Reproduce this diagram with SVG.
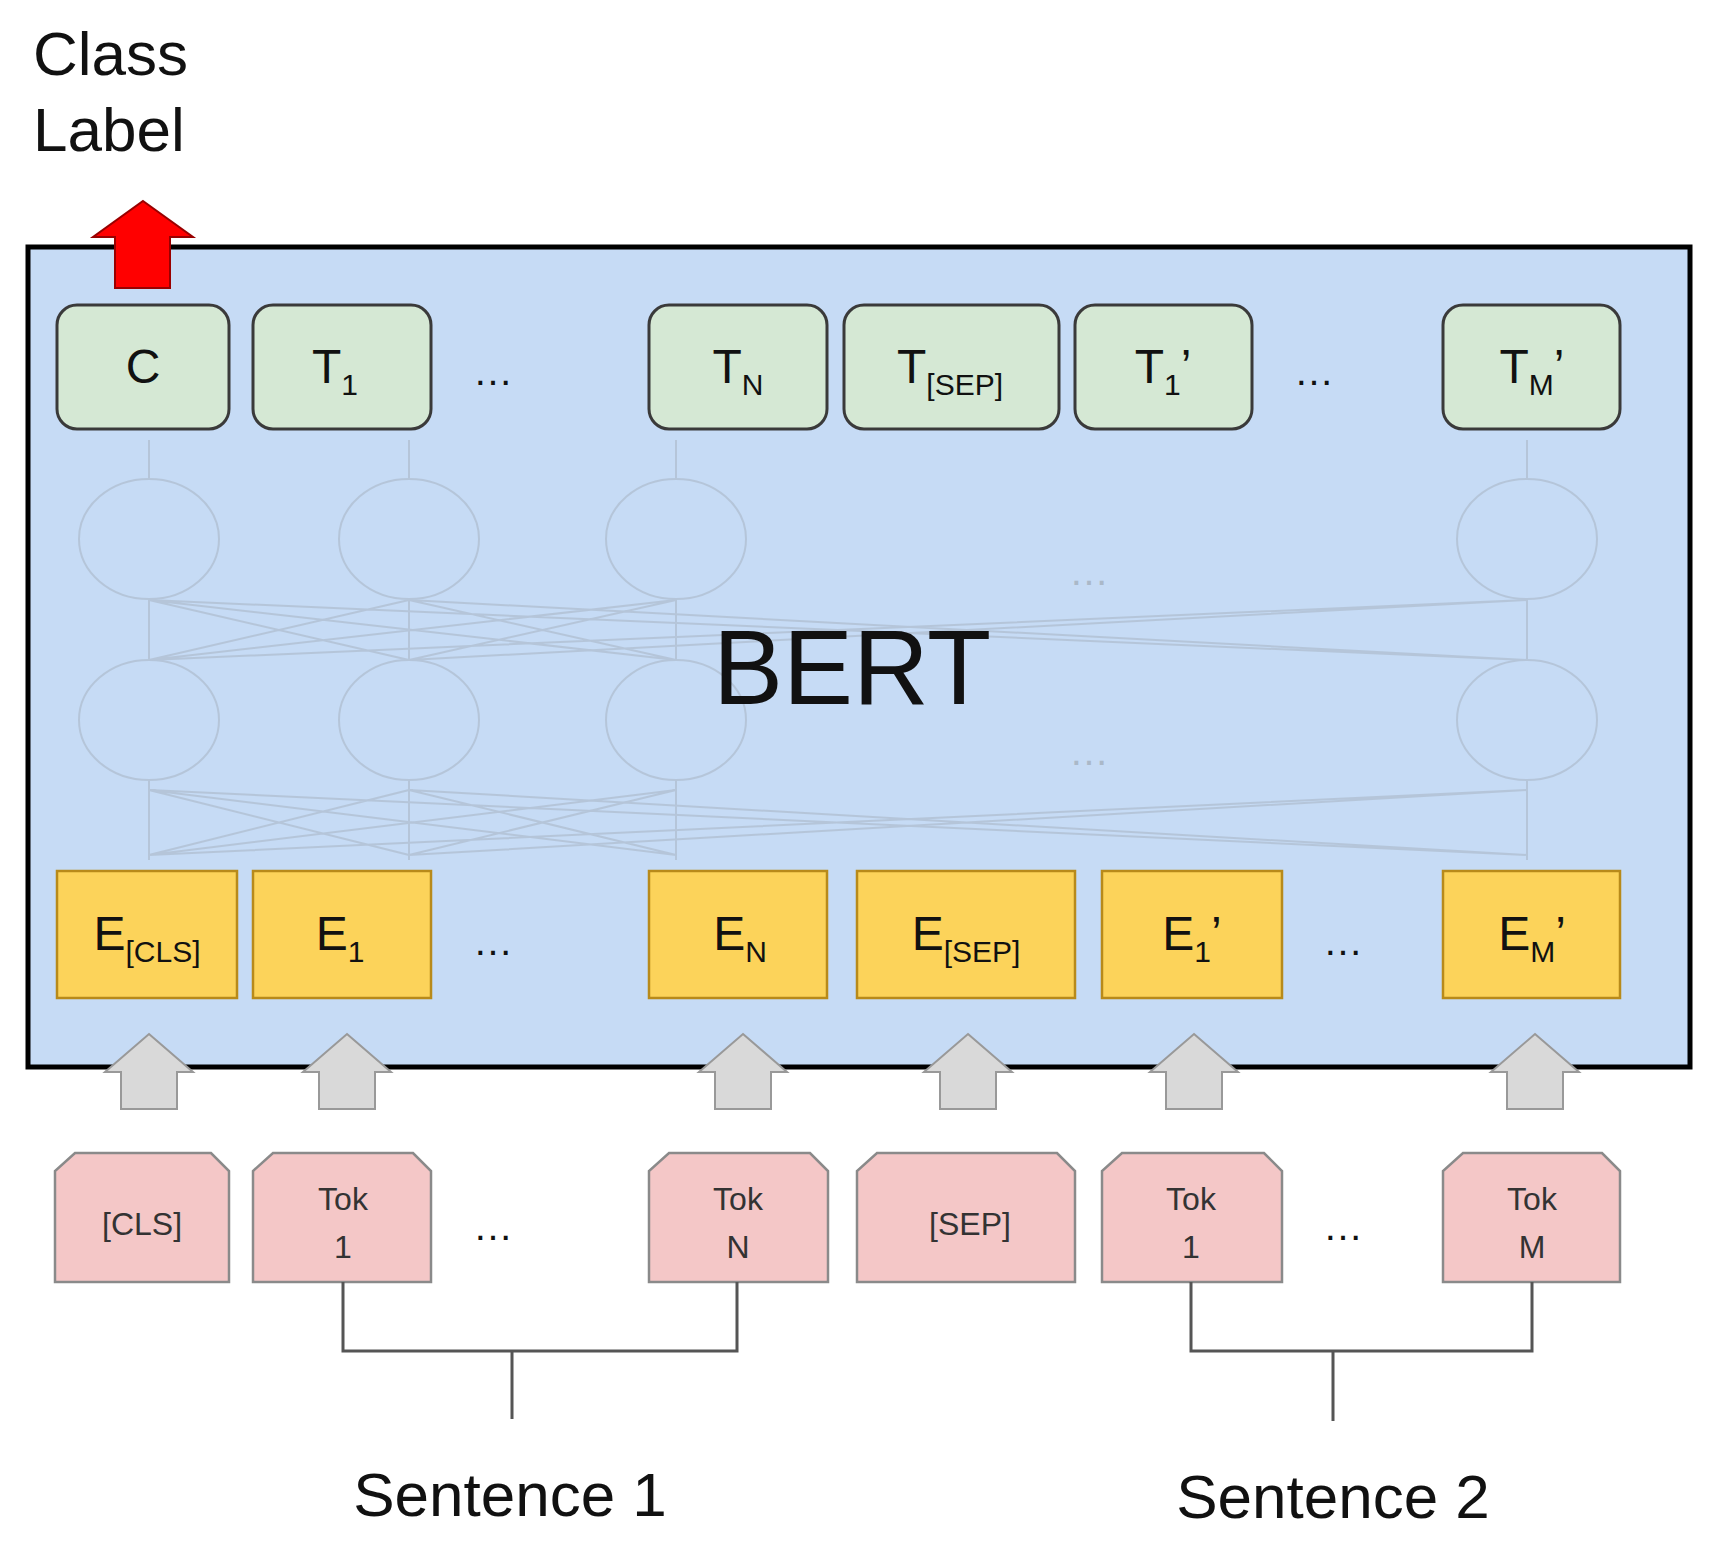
<svg xmlns="http://www.w3.org/2000/svg" width="1717" height="1552" viewBox="0 0 1717 1552">
<style>
text{font-family:"Liberation Sans",Arial,sans-serif;fill:#111}
.t{fill:#d5e8d4;stroke:#3a3a3a;stroke-width:3}
.e{fill:#fcd35a;stroke:#b88a1a;stroke-width:2.5}
.p{fill:#f4c7c7;stroke:#8a8a8a;stroke-width:2.5}
.g{fill:#d9d9d9;stroke:#999;stroke-width:2}
.lbl{font-size:48px;text-anchor:middle}
.sub{font-size:30px}
.tok{font-size:32px;text-anchor:middle;fill:#333}
.dots{font-size:40px;text-anchor:middle}
.faint{fill:none;stroke:#aab8c8;stroke-width:2;opacity:.6}
.br{fill:none;stroke:#555;stroke-width:3}
</style>
<rect x="0" y="0" width="1717" height="1552" fill="#fff"/>
<g id="bert"><rect x="28" y="247" width="1662" height="820" fill="#c6dbf5" stroke="#000" stroke-width="5"/></g>
<g id="faint" class="faint">
<ellipse cx="149" cy="539" rx="70" ry="60"/><ellipse cx="409" cy="539" rx="70" ry="60"/><ellipse cx="676" cy="539" rx="70" ry="60"/><ellipse cx="1527" cy="539" rx="70" ry="60"/>
<ellipse cx="149" cy="720" rx="70" ry="60"/><ellipse cx="409" cy="720" rx="70" ry="60"/><ellipse cx="676" cy="720" rx="70" ry="60"/><ellipse cx="1527" cy="720" rx="70" ry="60"/>
<path d="M149 860V780M409 860V780M676 860V780M1527 860V780M149 660V599M409 660V599M676 660V599M1527 660V599M149 479V440M409 479V440M676 479V440M1527 479V440"/>
<path d="M149 855L409 790M149 855L676 790M149 855L1527 790M409 855L149 790M409 855L676 790M409 855L1527 790M676 855L149 790M676 855L409 790M1527 855L149 790M1527 855L409 790"/>
<path d="M149 660L409 600M149 660L676 600M149 660L1527 600M409 660L149 600M409 660L676 600M409 660L1527 600M676 660L149 600M676 660L409 600M1527 660L149 600M1527 660L409 600"/>
</g>
<text x="1089" y="585" class="dots" style="fill:#aab8c8">…</text>
<text x="1089" y="765" class="dots" style="fill:#aab8c8">…</text>
<text x="852" y="704" font-size="105" text-anchor="middle">BERT</text>
<g id="classlabel"><text x="33" y="75" font-size="62" fill="#333">Class</text><text x="33" y="151" font-size="62" fill="#333">Label</text></g>
<g id="redarrow"><path d="M143 201L193 237H170V288H115V237H93Z" fill="#f00" stroke="#900" stroke-width="2"/></g>
<g id="outputs">
<g id="C"><rect class="t" x="57" y="305" width="172" height="124" rx="20"/><text class="lbl" x="143" y="383">C</text></g>
<g id="T1"><rect class="t" x="253" y="305" width="178" height="124" rx="20"/><text class="lbl" x="335" y="383">T<tspan class="sub" dy="12">1</tspan></text></g>
<text class="dots" x="493" y="385">…</text>
<g id="TN"><rect class="t" x="649" y="305" width="178" height="124" rx="20"/><text class="lbl" x="738" y="383">T<tspan class="sub" dy="12">N</tspan></text></g>
<g id="TSEP"><rect class="t" x="844" y="305" width="215" height="124" rx="20"/><text class="lbl" x="950" y="383">T<tspan class="sub" dy="12">[SEP]</tspan></text></g>
<g id="T1p"><rect class="t" x="1075" y="305" width="177" height="124" rx="20"/><text class="lbl" x="1163" y="383">T<tspan class="sub" dy="12">1</tspan><tspan dy="-12">’</tspan></text></g>
<text class="dots" x="1314" y="385">…</text>
<g id="TMp"><rect class="t" x="1443" y="305" width="177" height="124" rx="20"/><text class="lbl" x="1532" y="383">T<tspan class="sub" dy="12">M</tspan><tspan dy="-12">’</tspan></text></g>
</g>
<g id="embeddings">
<g id="ECLS"><rect class="e" x="57" y="871" width="180" height="127"/><text class="lbl" x="147" y="950" font-size="44">E<tspan class="sub" font-size="26" dy="12">[CLS]</tspan></text></g>
<g id="E1"><rect class="e" x="253" y="871" width="178" height="127"/><text class="lbl" x="340" y="950">E<tspan class="sub" dy="12">1</tspan></text></g>
<text class="dots" x="493" y="955">…</text>
<g id="EN"><rect class="e" x="649" y="871" width="178" height="127"/><text class="lbl" x="740" y="950">E<tspan class="sub" dy="12">N</tspan></text></g>
<g id="ESEP"><rect class="e" x="857" y="871" width="218" height="127"/><text class="lbl" x="966" y="950">E<tspan class="sub" dy="12">[SEP]</tspan></text></g>
<g id="E1p"><rect class="e" x="1102" y="871" width="180" height="127"/><text class="lbl" x="1192" y="950">E<tspan class="sub" dy="12">1</tspan><tspan dy="-12">’</tspan></text></g>
<text class="dots" x="1343" y="955">…</text>
<g id="EMp"><rect class="e" x="1443" y="871" width="177" height="127"/><text class="lbl" x="1532" y="950">E<tspan class="sub" dy="12">M</tspan><tspan dy="-12">’</tspan></text></g>
</g>
<g id="grayarrows">
<path class="g" d="M149 1034l44 38h-16v37h-56v-37h-16z"/>
<path class="g" d="M347 1034l44 38h-16v37h-56v-37h-16z"/>
<path class="g" d="M743 1034l44 38h-16v37h-56v-37h-16z"/>
<path class="g" d="M968 1034l44 38h-16v37h-56v-37h-16z"/>
<path class="g" d="M1194 1034l44 38h-16v37h-56v-37h-16z"/>
<path class="g" d="M1535 1034l44 38h-16v37h-56v-37h-16z"/>
</g>
<g id="tokens">
<g id="tCLS"><path class="p" d="M75 1153H211L229 1171V1282H55V1171Z"/><text class="tok" x="142" y="1235" font-size="28">[CLS]</text></g>
<g id="tTok1"><path class="p" d="M273 1153H413L431 1171V1282H253V1171Z"/><text class="tok" x="343" y="1210">Tok</text><text class="tok" x="343" y="1258">1</text></g>
<text class="dots" x="493" y="1240">…</text>
<g id="tTokN"><path class="p" d="M669 1153H810L828 1171V1282H649V1171Z"/><text class="tok" x="738" y="1210">Tok</text><text class="tok" x="738" y="1258">N</text></g>
<g id="tSEP"><path class="p" d="M877 1153H1057L1075 1171V1282H857V1171Z"/><text class="tok" x="970" y="1235">[SEP]</text></g>
<g id="tTok1p"><path class="p" d="M1122 1153H1264L1282 1171V1282H1102V1171Z"/><text class="tok" x="1191" y="1210">Tok</text><text class="tok" x="1191" y="1258">1</text></g>
<text class="dots" x="1343" y="1240">…</text>
<g id="tTokM"><path class="p" d="M1463 1153H1602L1620 1171V1282H1443V1171Z"/><text class="tok" x="1532" y="1210">Tok</text><text class="tok" x="1532" y="1258">M</text></g>
</g>
<g id="connectors" class="br">
<path d="M343 1282V1351H737V1282M512 1351V1419"/>
<path d="M1191 1282V1351H1532V1282M1333 1351V1421"/>
</g>
<g id="sentences"><text x="510" y="1516" font-size="62" text-anchor="middle" fill="#333">Sentence 1</text><text x="1333" y="1518" font-size="62" text-anchor="middle">Sentence 2</text></g>
</svg>
